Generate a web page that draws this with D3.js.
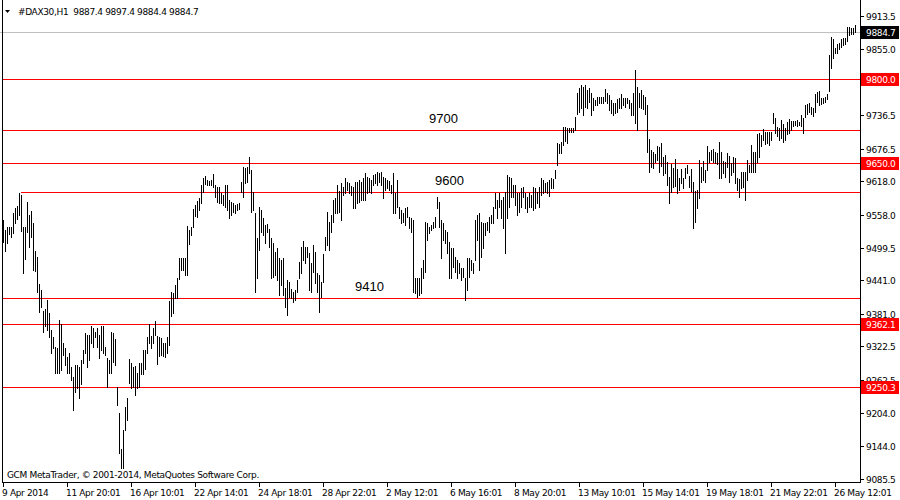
<!DOCTYPE html>
<html><head><meta charset="utf-8">
<script src="https://cdn.jsdelivr.net/npm/d3@7"></script>
<style>body{margin:0;background:#fff}svg{display:block}text{white-space:pre}</style>
</head><body><svg id="c" width="900" height="500"></svg>
<script>
// ---- data (H1 bars, high / low) ----
const highs = [
9548.7,9530.8,9536.8,9536.8,9536.8,9561.8,9570.1,9573.7,9596.4,9594.0,
9535.6,9536.8,9580.9,9558.2,9564.2,9542.7,9493.8,9481.9,9434.2,9423.5,
9386.5,9390.1,9405.6,9382.9,9352.0,9340.0,9322.2,9319.2,9369.9,9362.7,
9328.1,9319.2,9304.3,9310.2,9286.4,9268.5,9289.4,9289.4,9286.4,9298.3,
9316.2,9346.0,9343.0,9343.0,9359.7,9355.0,9349.0,9355.0,9343.0,9359.7,
9359.7,9322.2,9301.3,9298.3,9349.0,9347.2,9335.9,9250.7,9203.0,9138.6,
9173.2,9214.9,9229.8,9299.5,9293.6,9285.2,9287.6,9275.7,9293.6,9293.6,
9316.2,9316.2,9340.0,9362.7,9341.3,9355.0,9368.7,9341.3,9338.9,9337.1,
9328.2,9328.2,9338.9,9403.8,9419.3,9417.6,9431.9,9445.6,9480.7,9480.7,
9480.7,9480.7,9538.0,9530.8,9535.6,9568.9,9575.5,9583.2,9587.4,9610.7,
9623.8,9627.4,9620.2,9618.4,9620.3,9631.0,9611.3,9608.3,9607.1,9596.4,
9593.4,9611.3,9611.3,9584.5,9581.5,9578.5,9575.5,9577.3,9578.5,9616.7,
9644.1,9641.1,9644.1,9662.0,9638.1,9599.4,9560.6,9515.9,9571.4,9566.6,
9551.7,9539.8,9541.6,9532.0,9515.9,9507.0,9492.1,9498.1,9480.2,9477.2,
9480.2,9426.5,9441.4,9438.4,9424.7,9420.6,9423.5,9441.4,9474.2,9501.0,
9511.8,9501.0,9501.0,9489.1,9471.2,9504.0,9492.1,9453.4,9450.4,9438.4,
9487.9,9518.9,9563.6,9545.7,9557.7,9584.5,9587.5,9611.3,9601.2,9614.3,
9607.1,9623.2,9617.3,9615.5,9609.5,9608.3,9617.3,9617.3,9620.3,9617.3,
9623.2,9632.2,9626.2,9623.2,9620.3,9629.2,9631.0,9635.2,9632.2,9635.2,
9626.2,9623.2,9620.3,9619.1,9611.3,9632.2,9596.4,9620.3,9572.6,9566.6,
9560.6,9569.6,9572.6,9554.7,9551.7,9548.7,9444.4,9444.4,9444.4,9462.3,
9477.2,9545.7,9542.7,9536.8,9539.7,9545.7,9554.6,9590.4,9581.5,9548.7,
9542.7,9530.8,9527.8,9509.9,9498.0,9498.0,9483.1,9477.1,9471.2,9462.2,
9462.2,9444.4,9480.1,9480.1,9477.1,9471.2,9548.7,9557.6,9560.6,9545.7,
9543.9,9543.9,9545.7,9554.6,9557.6,9572.5,9597.5,9584.4,9596.4,9584.4,
9590.4,9599.3,9629.1,9626.2,9623.2,9611.3,9611.3,9597.5,9597.5,9605.3,
9608.3,9597.5,9590.4,9596.4,9593.4,9608.3,9605.3,9599.3,9608.3,9623.2,
9620.2,9614.2,9617.2,9620.2,9623.2,9621.4,9638.1,9685.8,9684.6,9688.8,
9715.6,9715.6,9712.6,9712.6,9712.6,9712.6,9733.5,9775.2,9784.1,9790.1,
9787.1,9790.1,9781.1,9784.1,9775.2,9766.2,9763.3,9768.0,9769.2,9769.2,
9768.0,9782.3,9775.2,9772.2,9763.3,9757.3,9758.5,9764.5,9766.2,9774.0,
9766.2,9766.2,9766.2,9763.3,9757.3,9775.2,9816.9,9787.1,9775.2,9781.2,
9772.2,9769.3,9754.4,9693.5,9673.9,9670.9,9666.1,9681.6,9679.8,9685.8,
9662.0,9665.0,9651.8,9625.0,9648.2,9642.3,9657.8,9639.9,9624.4,9639.9,
9623.2,9642.3,9647.1,9626.8,9639.3,9617.2,9600.5,9602.3,9656.0,9644.1,
9654.8,9638.1,9681.6,9670.9,9673.9,9675.7,9669.7,9667.9,9688.8,9669.7,
9654.2,9653.0,9667.9,9663.7,9650.0,9662.0,9659.0,9623.2,9622.0,9633.9,
9635.1,9633.9,9656.0,9647.1,9682.8,9669.7,9669.7,9701.9,9703.7,9700.7,
9711.4,9705.5,9706.7,9705.5,9706.7,9739.5,9731.7,9715.6,9712.6,9727.5,
9719.8,9712.6,9724.5,9729.3,9725.7,9725.7,9725.7,9727.5,9724.5,9736.5,
9731.7,9754.4,9755.6,9757.3,9751.4,9748.4,9773.4,9778.2,9779.4,9767.5,
9766.3,9769.3,9773.4,9843.8,9876.6,9872.4,9856.9,9862.8,9864.6,9872.4,
9874.8,9873.6,9894.4,9894.4,9891.5,9892.7,9897.4];
const lows = [
9510.0,9493.8,9508.1,9523.6,9518.9,9526.0,9543.9,9551.1,9558.2,9529.6,
9453.3,9479.5,9527.2,9499.8,9518.9,9459.3,9456.9,9419.9,9384.1,9392.5,
9349.0,9359.1,9352.0,9340.0,9310.2,9319.2,9274.5,9274.5,9274.5,9280.4,
9306.7,9289.4,9274.5,9274.5,9262.6,9208.9,9241.7,9247.7,9229.8,9255.5,
9293.6,9310.3,9286.4,9298.3,9328.2,9322.2,9340.0,9322.2,9301.3,9316.2,
9310.3,9307.3,9250.7,9275.7,9274.5,9295.4,9289.4,9218.0,9131.5,9104.6,
9104.6,9173.2,9191.0,9256.6,9247.7,9250.7,9235.8,9247.7,9250.7,9273.3,
9273.3,9282.3,9310.3,9328.2,9319.2,9328.2,9343.0,9290.6,9305.5,9307.3,
9305.5,9304.3,9310.3,9325.2,9377.0,9383.0,9408.6,9408.6,9442.6,9459.3,
9459.3,9450.3,9450.3,9505.8,9521.9,9535.6,9555.8,9554.6,9566.6,9579.7,
9599.3,9613.1,9611.8,9611.8,9611.3,9607.1,9590.4,9581.5,9579.7,9578.5,
9575.5,9572.6,9566.6,9551.7,9557.7,9563.6,9560.6,9566.6,9567.8,9599.4,
9590.4,9615.5,9617.3,9632.2,9563.6,9566.6,9420.6,9444.4,9495.1,9527.9,
9521.9,9507.0,9527.9,9501.0,9444.4,9447.4,9450.4,9441.4,9414.6,9432.5,
9414.6,9393.7,9378.8,9411.6,9408.6,9402.7,9405.6,9420.6,9444.4,9453.4,
9477.2,9471.2,9483.1,9423.5,9420.6,9456.3,9435.5,9420.6,9384.8,9411.6,
9438.4,9495.1,9504.0,9495.1,9527.9,9545.7,9560.6,9560.6,9563.6,9548.7,
9593.4,9596.4,9602.4,9596.4,9593.4,9569.6,9569.6,9578.5,9581.5,9584.5,
9584.5,9584.5,9596.4,9599.4,9596.4,9611.3,9614.3,9611.3,9617.3,9611.3,
9587.5,9602.4,9605.4,9602.4,9596.4,9560.6,9560.6,9572.6,9551.7,9542.8,
9545.7,9539.8,9554.7,9533.8,9527.9,9420.6,9417.6,9411.6,9414.6,9417.6,
9444.4,9456.3,9512.9,9524.8,9530.8,9533.8,9536.8,9569.5,9536.8,9480.1,
9512.9,9506.9,9489.1,9444.4,9444.4,9465.2,9456.3,9444.4,9453.3,9441.4,
9447.3,9405.6,9423.5,9447.3,9459.3,9453.3,9477.1,9512.9,9459.3,9483.1,
9498.0,9521.8,9530.8,9527.8,9542.7,9542.7,9569.5,9551.7,9572.5,9551.7,
9533.8,9490.3,9551.7,9572.5,9590.4,9590.4,9575.5,9557.6,9563.6,9572.5,
9590.4,9569.5,9563.6,9572.5,9572.5,9566.5,9569.5,9578.5,9572.5,9593.4,
9596.4,9599.3,9596.4,9591.6,9605.3,9605.3,9623.2,9647.0,9669.1,9669.1,
9682.8,9690.5,9687.0,9706.6,9706.6,9706.6,9709.6,9738.2,9742.4,9748.4,
9736.4,9751.3,9748.4,9760.3,9736.4,9745.4,9754.3,9754.3,9757.3,9758.5,
9757.3,9762.1,9757.3,9745.4,9739.4,9736.4,9739.4,9742.4,9748.4,9748.4,
9754.3,9751.3,9757.3,9748.4,9736.4,9736.4,9721.5,9709.6,9751.3,9749.6,
9747.2,9738.9,9669.7,9633.9,9644.1,9642.3,9653.0,9656.0,9633.9,9645.9,
9629.2,9632.2,9611.3,9578.5,9599.4,9608.3,9610.1,9596.4,9602.3,9614.3,
9605.3,9623.2,9632.2,9608.3,9600.5,9533.8,9545.7,9570.7,9587.4,9617.2,
9620.2,9617.2,9638.1,9651.8,9656.0,9653.0,9650.0,9648.2,9624.4,9623.2,
9632.2,9626.2,9644.1,9617.2,9629.2,9635.1,9614.3,9602.3,9590.4,9606.5,
9608.3,9584.5,9620.2,9635.1,9635.1,9635.1,9635.1,9653.0,9662.0,9681.6,
9691.8,9684.0,9685.8,9682.8,9691.8,9721.6,9703.7,9699.5,9691.8,9696.0,
9688.8,9691.8,9701.9,9703.7,9709.6,9717.4,9718.6,9717.4,9718.6,9717.4,
9703.7,9733.5,9737.7,9742.4,9737.7,9735.3,9741.2,9759.1,9754.4,9755.6,
9757.3,9759.1,9765.1,9779.4,9821.1,9837.8,9846.7,9846.7,9854.5,9858.7,
9861.6,9862.8,9868.8,9879.5,9880.7,9881.9,9884.4];

const timeLabels = ["9 Apr 2014","11 Apr 20:01","16 Apr 10:01","22 Apr 14:01","24 Apr 18:01",
  "28 Apr 22:01","2 May 12:01","6 May 16:01","8 May 20:01","13 May 10:01","15 May 14:01",
  "19 May 18:01","21 May 22:01","26 May 12:01"];
const labelEvery = 32; // bars between time labels
const priceTicks = [9913.5,9855.0,9796.0,9736.5,9676.5,9618.0,9558.0,9499.5,9441.0,9381.0,9322.5,9262.5,9204.0,9144.0,9085.5];
// horizontal levels: value, first bar index, right-axis tag shown
const levelValues = [9800.0, 9709.0, 9650.0, 9599.0, 9409.0, 9362.1, 9250.3];
const levelStart  = [0, 0, 0, 9, 0, 0, 0];
const levelTagged = [true, false, true, false, false, true, true];
// text annotations
const noteTexts  = ["9700", "9600", "9410"];
const noteLevels = [9709.0, 9599.0, 9409.0];
const noteBars   = [213, 216, 176];
const lastPrice = 9884.7;
const titleText = "#DAX30,H1  9887.4 9897.4 9884.4 9884.7";
const copyright = "GCM MetaTrader, \u00A9 2001-2014, MetaQuotes Software Corp.";

// ---- drawing ----
const svg = d3.select("#c");
const N = Math.min(highs.length, lows.length);
const plotRight = 860, plotBottom = 482;
const x = d3.scaleLinear().domain([0, 426]).range([3, 855]);
const y = d3.scaleLinear().domain([9085.5, 9913.5]).range([479, 16]);
const FONT = "'DejaVu Sans', sans-serif";

svg.append("rect").attr("width", 900).attr("height", 500).attr("fill", "#fff");

// bid line
svg.append("line").attr("x1", 0).attr("x2", plotRight)
  .attr("y1", Math.round(y(lastPrice)) + 0.5).attr("y2", Math.round(y(lastPrice)) + 0.5)
  .attr("stroke", "#c0c0c0").attr("stroke-width", 1);

// red levels
svg.append("g").selectAll("line").data(levelValues).join("line")
  .attr("x1", (d, i) => x(levelStart[i])).attr("x2", plotRight)
  .attr("y1", d => Math.round(y(d)) + 0.5).attr("y2", d => Math.round(y(d)) + 0.5)
  .attr("stroke", "#ff0000").attr("stroke-width", 1);

// bars
const bars = d3.range(N).map(i => ({i, h: highs[i], l: lows[i]}));
svg.append("g").selectAll("rect").data(bars).join("rect")
  .attr("x", d => Math.round(x(d.i)))
  .attr("width", 1)
  .attr("y", d => Math.round(y(d.h)))
  .attr("height", d => Math.max(1, Math.round(y(d.l)) - Math.round(y(d.h)) + 1))
  .attr("fill", "#000");

// frame
svg.append("line").attr("x1", 2.5).attr("x2", 2.5).attr("y1", 0).attr("y2", plotBottom + 1).attr("stroke", "#000");
svg.append("line").attr("x1", plotRight + 0.5).attr("x2", plotRight + 0.5).attr("y1", 0).attr("y2", plotBottom + 1).attr("stroke", "#000");
svg.append("line").attr("x1", 2).attr("x2", plotRight + 1).attr("y1", plotBottom + 0.5).attr("y2", plotBottom + 0.5).attr("stroke", "#000");

// right axis ticks & labels (labels hidden behind a tag are not printed)
const tagged = levelValues.filter((d, i) => levelTagged[i]);
const ra = svg.append("g");
ra.selectAll("line").data(priceTicks).join("line")
  .attr("x1", plotRight).attr("x2", plotRight + 4)
  .attr("y1", d => Math.round(y(d)) + 0.5).attr("y2", d => Math.round(y(d)) + 0.5)
  .attr("stroke", "#000");
const visibleTicks = priceTicks.filter(t => !tagged.some(v => Math.abs(y(v) - y(t)) < 4));
ra.selectAll("text").data(visibleTicks).join("text")
  .attr("x", 866).attr("y", d => Math.round(y(d)) + 3.5)
  .attr("font-family", FONT).attr("font-size", 9).attr("letter-spacing", -0.35)
  .attr("fill", "#000").text(d => d.toFixed(1));

// tags on right axis
const tags = tagged.map(v => ({v, c: "#ff0000"}));
tags.push({v: lastPrice, c: "#000"});
const tg = svg.append("g").selectAll("g").data(tags).join("g");
tg.append("rect").attr("x", 861).attr("width", 38).attr("height", 13)
  .attr("y", d => Math.round(y(d.v)) - 6).attr("fill", d => d.c);
tg.append("text").attr("x", 866).attr("y", d => Math.round(y(d.v)) + 3.5)
  .attr("font-family", FONT).attr("font-size", 9).attr("letter-spacing", -0.35)
  .attr("fill", "#fff").text(d => d.v.toFixed(1));

// bottom axis
const ba = svg.append("g");
ba.selectAll("line").data(timeLabels).join("line")
  .attr("x1", (d, k) => x(k * labelEvery) + 0.5).attr("x2", (d, k) => x(k * labelEvery) + 0.5)
  .attr("y1", plotBottom).attr("y2", plotBottom + 5).attr("stroke", "#000");
ba.selectAll("text").data(timeLabels).join("text")
  .attr("x", (d, k) => Math.max(0, x(k * labelEvery) - 1)).attr("y", 495.5)
  .attr("font-family", FONT).attr("font-size", 9).attr("letter-spacing", -0.35)
  .attr("fill", "#000").text(d => d);

// annotations
svg.append("g").selectAll("text").data(noteTexts).join("text")
  .attr("x", (d, i) => x(noteBars[i])).attr("y", (d, i) => Math.round(y(noteLevels[i])) - 7)
  .attr("font-family", "'Liberation Sans', Arial, sans-serif").attr("font-size", 13)
  .attr("fill", "#000").text(d => d);

// title
svg.append("path").attr("d", "M5,10 L10,10 L7.5,13 Z").attr("fill", "#000");
svg.append("text").attr("x", 18).attr("y", 15)
  .attr("font-family", FONT).attr("font-size", 9).attr("letter-spacing", -0.35)
  .attr("fill", "#000").text(titleText);
// copyright
svg.append("text").attr("x", 7).attr("y", 477.5)
  .attr("font-family", FONT).attr("font-size", 9).attr("letter-spacing", -0.35)
  .attr("fill", "#000").text(copyright);
</script>
</body></html>
